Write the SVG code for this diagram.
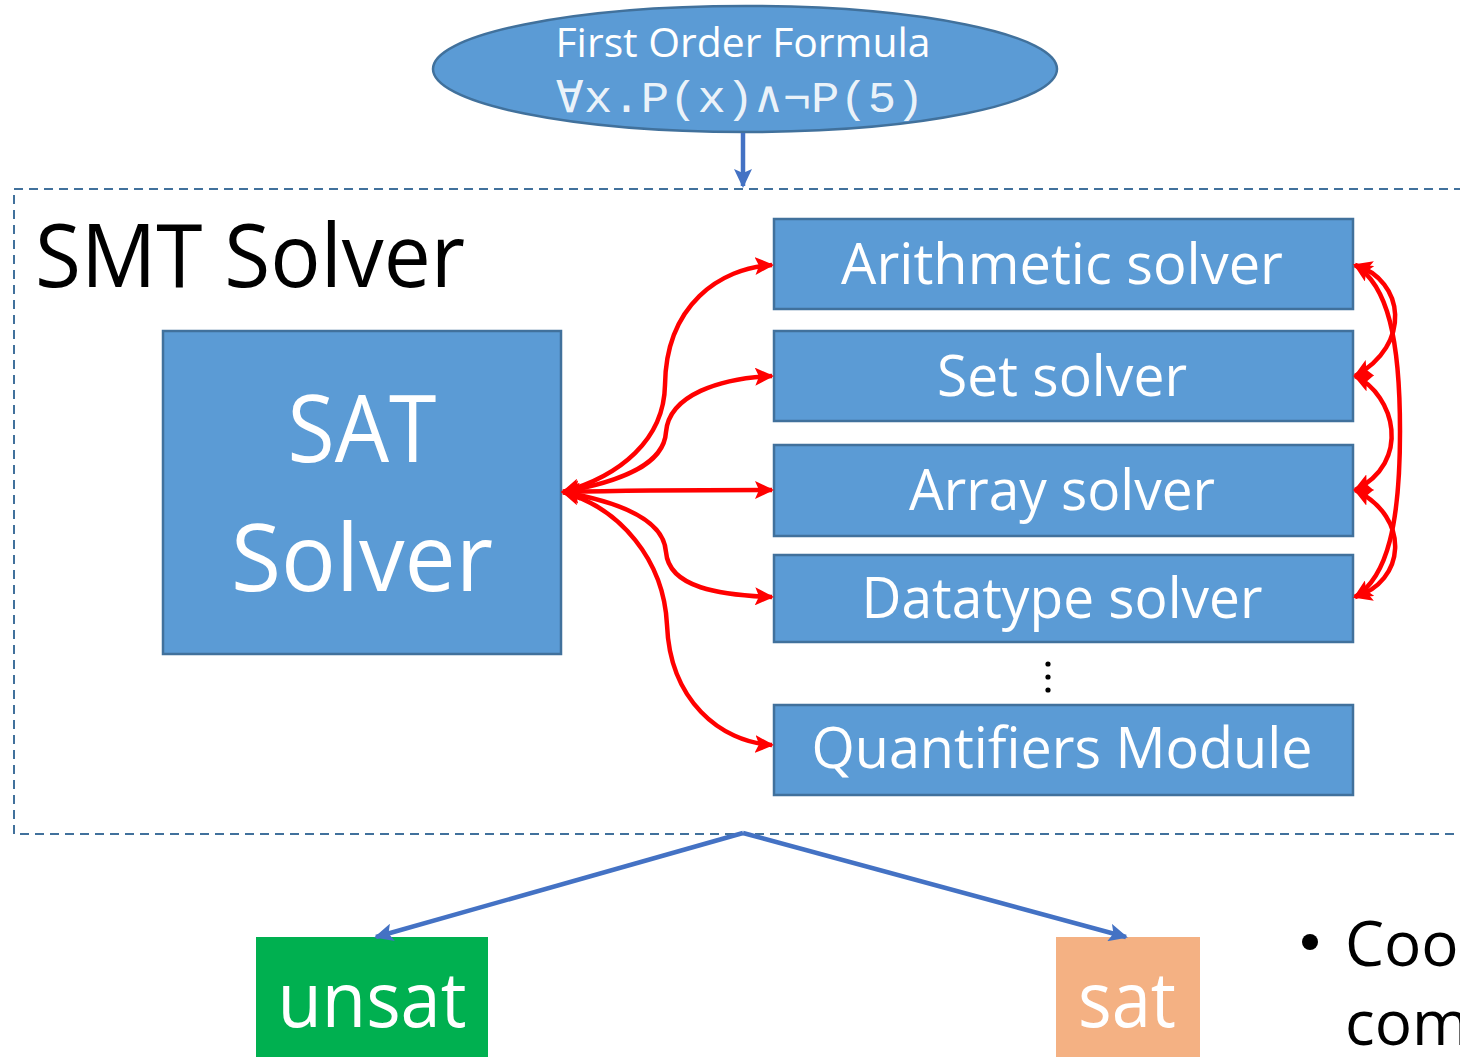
<svg xmlns="http://www.w3.org/2000/svg" width="1460" height="1057" viewBox="0 0 1460 1057">
  <style>
    .box { fill: #5B9BD5; stroke: #41719C; stroke-width: 2.5; }
    .lbl { fill: #FFFFFF; font-family: "Open Sans", "Noto Sans", "Liberation Sans", sans-serif; text-anchor: middle; }
    .mono { fill: #FFFFFF; fill-opacity: 0.9; font-family: "Liberation Mono", "DejaVu Sans Mono", monospace; text-anchor: middle; }
    .red { fill: none; stroke: #FF0000; stroke-width: 4.5; marker-start: url(#redHead); marker-end: url(#redHead); }
    .blue { fill: none; stroke: #4472C4; stroke-width: 4.5; marker-end: url(#blueHead); }
  </style>
  <defs>
    <marker id="redHead" markerUnits="userSpaceOnUse" markerWidth="20" markerHeight="18" refX="17" refY="9" orient="auto-start-reverse">
      <path d="M0,0 L19,9 L0,18 L4,9 z" fill="#FF0000"/>
    </marker>
    <marker id="blueHead" markerUnits="userSpaceOnUse" markerWidth="20" markerHeight="18" refX="17" refY="9" orient="auto">
      <path d="M0,0 L19,9 L0,18 L4,9 z" fill="#4472C4"/>
    </marker>
  </defs>

  <rect width="1460" height="1057" fill="#FFFFFF"/>

  <!-- solver boundary -->
  <g id="smt-solver">
    <rect x="14" y="189" width="1500" height="645" fill="none" stroke="#41719C" stroke-width="2" stroke-dasharray="9 6"/>
    <text x="35" y="287" font-family="Open Sans, Noto Sans, Liberation Sans, sans-serif" font-size="87" fill="#000000" textLength="430" lengthAdjust="spacingAndGlyphs">SMT Solver</text>
  </g>

  <!-- input formula -->
  <g id="formula">
    <ellipse cx="745" cy="69" rx="312" ry="63" class="box"/>
    <text x="743" y="57" class="lbl" font-size="40" textLength="375" lengthAdjust="spacingAndGlyphs">First Order Formula</text>
    <text x="740" y="112" class="mono" font-size="44" textLength="369" lengthAdjust="spacingAndGlyphs">∀x.P(x)∧¬P(5)</text>
  </g>

  <g id="sat-solver">
    <rect x="163" y="331" width="398" height="323" class="box"/>
    <text x="362" y="462" class="lbl" font-size="94" textLength="149" lengthAdjust="spacingAndGlyphs">SAT</text>
    <text x="362" y="591" class="lbl" font-size="94" textLength="262" lengthAdjust="spacingAndGlyphs">Solver</text>
  </g>

  <g id="arithmetic-solver">
    <rect x="774" y="219" width="579" height="90" class="box"/>
    <text x="1062" y="284" class="lbl" font-size="57" textLength="442" lengthAdjust="spacingAndGlyphs">Arithmetic solver</text>
  </g>
  <g id="set-solver">
    <rect x="774" y="331" width="579" height="90" class="box"/>
    <text x="1062" y="396" class="lbl" font-size="57" textLength="250" lengthAdjust="spacingAndGlyphs">Set solver</text>
  </g>
  <g id="array-solver">
    <rect x="774" y="445" width="579" height="91" class="box"/>
    <text x="1062" y="510" class="lbl" font-size="57" textLength="306" lengthAdjust="spacingAndGlyphs">Array solver</text>
  </g>
  <g id="datatype-solver">
    <rect x="774" y="555" width="579" height="87" class="box"/>
    <text x="1062" y="618" class="lbl" font-size="57" textLength="401" lengthAdjust="spacingAndGlyphs">Datatype solver</text>
  </g>
  <g id="more-solvers">
    <circle cx="1048" cy="664" r="2.6" fill="#000000"/>
    <circle cx="1048" cy="677" r="2.6" fill="#000000"/>
    <circle cx="1048" cy="690" r="2.6" fill="#000000"/>
  </g>
  <g id="quantifiers-module">
    <rect x="774" y="705" width="579" height="90" class="box"/>
    <text x="1062" y="768" class="lbl" font-size="57" textLength="501" lengthAdjust="spacingAndGlyphs">Quantifiers Module</text>
  </g>

  <!-- results -->
  <g id="unsat">
    <rect x="256" y="937" width="232" height="125" fill="#00B050"/>
    <text x="372" y="1027" class="lbl" font-size="76" textLength="189" lengthAdjust="spacingAndGlyphs">unsat</text>
  </g>
  <g id="sat">
    <rect x="1056" y="937" width="144" height="125" fill="#F4B183"/>
    <text x="1127" y="1027" class="lbl" font-size="76" textLength="98" lengthAdjust="spacingAndGlyphs">sat</text>
  </g>

  <!-- bullet text running off the right edge -->
  <g id="bullet-text" font-family="Open Sans, Noto Sans, Liberation Sans, sans-serif" font-size="62" fill="#000000">
    <circle cx="1310" cy="942" r="8"/>
    <text x="1345" y="966">Coo</text>
    <text x="1345" y="1045">com</text>
  </g>

  <g id="connectors">
    <!-- formula into solver -->
    <path class="blue" d="M743,133 L743,186"/>
    <!-- solver outcomes -->
    <path class="blue" d="M743,833 L376,937"/>
    <path class="blue" d="M743,833 L1126,937"/>

    <!-- SAT solver to theory solvers -->
    <path class="red" d="M563,492 C620,476 664,440 665,385 C666,305 720,268 772,265"/>
    <path class="red" d="M563,492 C620,482 664,465 666,432 C669,395 720,378 772,376"/>
    <path class="red" d="M563,492 C640,490 700,490 772,490"/>
    <path class="red" d="M563,492 C620,502 664,520 666,552 C669,588 720,595 772,597"/>
    <path class="red" d="M563,492 C620,508 664,560 667,625 C670,700 720,742 772,745"/>

    <!-- theory solvers to each other -->
    <path class="red" d="M1355,265 C1405,280 1412,345 1355,376"/>
    <path class="red" d="M1355,265 C1388,285 1400,340 1400,431 C1400,522 1388,577 1355,597"/>
    <path class="red" d="M1355,376 C1395,395 1412,462 1355,490"/>
    <path class="red" d="M1355,490 C1412,518 1405,582 1355,597"/>
  </g>
</svg>
